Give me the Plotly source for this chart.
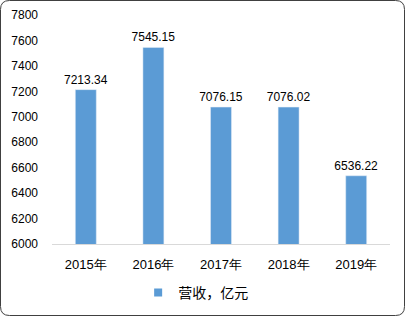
import plotly.graph_objects as go

years = ["2015年", "2016年", "2017年", "2018年", "2019年"]
revenue = [7213.34, 7545.15, 7076.15, 7076.02, 6536.22]
series_name = "营收，亿元"
y_ticks = [6000, 6200, 6400, 6600, 6800, 7000, 7200, 7400, 7600, 7800]

W, H = 405, 316
ML, MR, MT, MB = 52, 15, 15, 72
PW, PH = W - ML - MR, H - MT - MB
BLUE = "#5B9BD5"

fig = go.Figure()
fig.add_trace(go.Bar(
    x=years, y=revenue, marker_color=BLUE, showlegend=False,
    text=[f"{v:.2f}" for v in revenue], textposition="outside",
    constraintext="none",
    textfont=dict(family="Liberation Sans, Arial", size=12, color="#000000"),
    cliponaxis=False,
))
fig.add_trace(go.Scatter(
    x=[None], y=[None], mode="markers", name=series_name,
    marker=dict(symbol="square", size=8, color=BLUE),
))

def px(x):
    return (x - ML) / PW

def py(y):
    return (H - MB - y) / PH

r = 9
x0, x1, y0, y1 = 0.5, W - 0.5, 0.5, H - 0.5
path = (
    f"M{px(x0 + r)},{py(y0)} L{px(x1 - r)},{py(y0)} "
    f"Q{px(x1)},{py(y0)} {px(x1)},{py(y0 + r)} "
    f"L{px(x1)},{py(y1 - r)} Q{px(x1)},{py(y1)} {px(x1 - r)},{py(y1)} "
    f"L{px(x0 + r)},{py(y1)} Q{px(x0)},{py(y1)} {px(x0)},{py(y1 - r)} "
    f"L{px(x0)},{py(y0 + r)} Q{px(x0)},{py(y0)} {px(x0 + r)},{py(y0)} Z"
)

fig.update_layout(
    width=W, height=H,
    margin=dict(l=ML, r=MR, t=MT, b=MB, autoexpand=False),
    paper_bgcolor="white", plot_bgcolor="white",
    bargap=0.69,
    font=dict(family="Liberation Sans, Arial", color="#000000"),
    xaxis=dict(
        showgrid=False, showline=True, linecolor="#D9D9D9", linewidth=1,
        ticks="", tickfont=dict(size=13), fixedrange=True,
        ticklabelstandoff=8,
    ),
    yaxis=dict(
        range=[6000, 7800], tickvals=y_ticks, showgrid=False,
        zeroline=False, showline=False, ticks="", tickfont=dict(size=12),
        ticklabelstandoff=13, fixedrange=True,
    ),
    legend=dict(
        orientation="h", x=0.425, xanchor="center",
        yref="container", y=(H - 293) / H, yanchor="middle",
        font=dict(family="Noto Sans CJK SC", size=14, color="#000000"),
        itemwidth=30, bgcolor="rgba(0,0,0,0)",
    ),
    shapes=[dict(type="path", xref="paper", yref="paper", path=path,
                 line=dict(color="#404040", width=1), layer="above")],
)

fig.write_html("out.html")
